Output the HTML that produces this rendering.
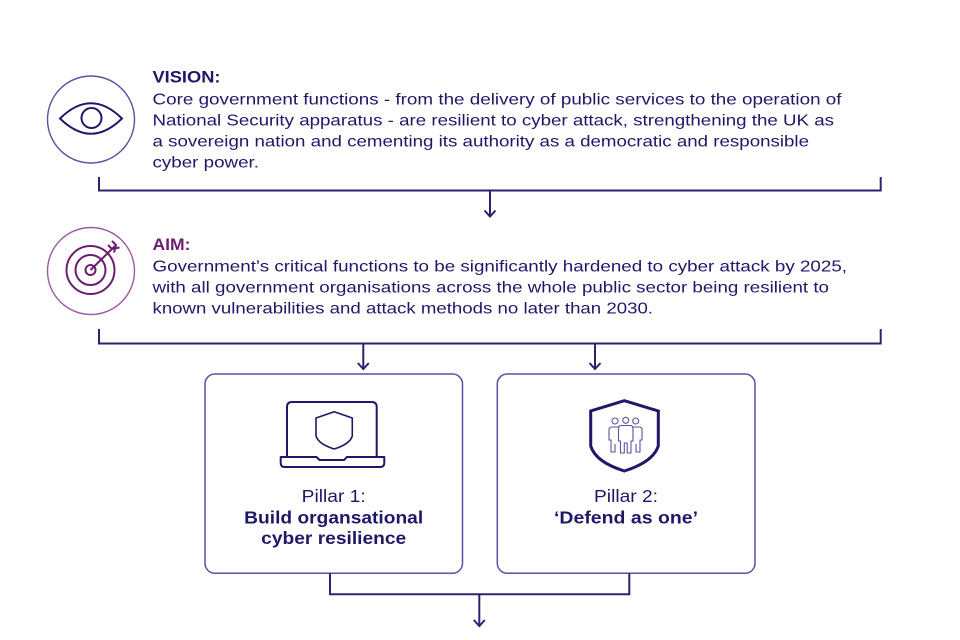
<!DOCTYPE html>
<html>
<head>
<meta charset="utf-8">
<style>
  html, body { margin:0; padding:0; background:#ffffff; }
  svg { display:block; }
  text { font-family: "Liberation Sans", Arial, sans-serif; }
</style>
</head>
<body>
<svg width="960" height="640" viewBox="0 0 960 640" xmlns="http://www.w3.org/2000/svg">
  <rect width="960" height="640" fill="#ffffff"/>

  <!-- VISION icon -->
  <circle cx="91" cy="119.5" r="43.5" fill="none" stroke="#5e4f9e" stroke-width="1.4"/>
  <path d="M60,118.5 Q91,88 122,118.5 Q91,149 60,118.5 Z" fill="none" stroke="#1f1868" stroke-width="2"/>
  <circle cx="91.5" cy="118" r="10" fill="none" stroke="#1f1868" stroke-width="2"/>

  <!-- VISION text -->
  <g fill="#1f1868">
    <text x="152.5" y="82.3" font-size="16.5" font-weight="bold" textLength="68" lengthAdjust="spacingAndGlyphs">VISION:</text>
    <text x="152.5" y="104.3" font-size="16" textLength="689" lengthAdjust="spacingAndGlyphs">Core government functions - from the delivery of public services to the operation of</text>
    <text x="152.5" y="125.3" font-size="16" textLength="681.5" lengthAdjust="spacingAndGlyphs">National Security apparatus - are resilient to cyber attack, strengthening the UK as</text>
    <text x="152.5" y="146.5" font-size="16" textLength="656.5" lengthAdjust="spacingAndGlyphs">a sovereign nation and cementing its authority as a democratic and responsible</text>
    <text x="152.5" y="167.3" font-size="16" textLength="106.5" lengthAdjust="spacingAndGlyphs">cyber power.</text>
  </g>

  <!-- bracket 1 -->
  <g fill="none" stroke="#2b2270" stroke-width="2">
    <path d="M99,177 V190.5 H880.7 V177"/>
    <path d="M490,190.5 V216"/>
    <path d="M484.5,210.5 L490,216.5 L495.5,210.5"/>
  </g>

  <!-- AIM icon -->
  <circle cx="91" cy="271" r="43.5" fill="none" stroke="#9b5ba3" stroke-width="1.4"/>
  <g fill="none" stroke="#6c1e6e" stroke-width="2">
    <circle cx="90.5" cy="270" r="24"/>
    <circle cx="90.5" cy="270" r="15"/>
    <circle cx="90.5" cy="270" r="5"/>
    <path d="M90.5,270 L115,246"/>
    <path d="M108,245 L112,249 L119.5,247.5"/>
    <path d="M112,241 L116,245 L114,252.5"/>
  </g>

  <!-- AIM text -->
  <text x="152.5" y="250" font-size="16.5" font-weight="bold" fill="#6c1e6e" textLength="38" lengthAdjust="spacingAndGlyphs">AIM:</text>
  <g fill="#1f1868">
    <text x="152.5" y="271.7" font-size="16" textLength="694.5" lengthAdjust="spacingAndGlyphs">Government’s critical functions to be significantly hardened to cyber attack by 2025,</text>
    <text x="152.5" y="292.7" font-size="16" textLength="676.5" lengthAdjust="spacingAndGlyphs">with all government organisations across the whole public sector being resilient to</text>
    <text x="152.5" y="313.5" font-size="16" textLength="500.5" lengthAdjust="spacingAndGlyphs">known vulnerabilities and attack methods no later than 2030.</text>
  </g>

  <!-- bracket 2 -->
  <g fill="none" stroke="#2b2270" stroke-width="2">
    <path d="M99,329 V343.5 H880.7 V329"/>
    <path d="M363.3,343.5 V368.5"/>
    <path d="M357.8,363 L363.3,369 L368.8,363"/>
    <path d="M595,343.5 V368.5"/>
    <path d="M589.5,363 L595,369 L600.5,363"/>
  </g>

  <!-- Pillar boxes -->
  <rect x="205" y="374" width="257.5" height="199.3" rx="10" ry="10" fill="none" stroke="#5e4fa0" stroke-width="1.5"/>
  <rect x="497.3" y="374" width="257.7" height="199.3" rx="10" ry="10" fill="none" stroke="#5e4fa0" stroke-width="1.5"/>

  <!-- Laptop icon -->
  <g fill="none" stroke="#1f1868" stroke-width="2" stroke-linejoin="round">
    <path d="M287,457 V407 Q287,402 292,402 H371.7 Q376.7,402 376.7,407 V457"/>
    <path d="M280.7,457 H316.5 L319.5,460 H344 L347,457 H384.3 V463 Q384.3,467 380.3,467 H284.7 Q280.7,467 280.7,463 Z"/>
    <path d="M334.2,411.7 L352.3,418 V436 Q350,444 334.2,449 Q318.4,444 316,436 V418 Z" stroke-width="1.6"/>
  </g>

  <!-- Shield with people icon -->
  <path d="M624.3,400.7 L658.3,411 V446 Q653,462 624.3,471 Q595.6,462 590.7,446 V411 Z" fill="none" stroke="#1f1868" stroke-width="3" stroke-linejoin="miter"/>
  <g fill="none" stroke="#5e4fa0" stroke-width="1.1" stroke-linejoin="round">
    <circle cx="615" cy="421" r="3"/>
    <circle cx="625.7" cy="420.3" r="3"/>
    <circle cx="635.7" cy="421" r="3"/>
    <path d="M619.5,427 H612 Q609,427 609,430 V440 H611 V452 H615 V444"/>
    <path d="M631.8,427 H639 Q642,427 642,430 V440 H640 V452 H636 V444"/>
    <path d="M621,425.5 H630.5 Q633,425.5 633,428.5 V441 H631 V453 H627.2 V443 H624.3 V453 H620.5 V441 H618.5 V428.5 Q618.5,425.5 621,425.5 Z"/>
  </g>

  <!-- Pillar texts -->
  <g fill="#1f1868" text-anchor="middle">
    <text x="333.7" y="501.8" font-size="17.5" textLength="64" lengthAdjust="spacingAndGlyphs">Pillar 1:</text>
    <text x="333.7" y="523.3" font-size="17.5" font-weight="bold" textLength="179" lengthAdjust="spacingAndGlyphs">Build organsational</text>
    <text x="333.7" y="544" font-size="17.5" font-weight="bold" textLength="145" lengthAdjust="spacingAndGlyphs">cyber resilience</text>
    <text x="626" y="501.8" font-size="17.5" textLength="64" lengthAdjust="spacingAndGlyphs">Pillar 2:</text>
    <text x="626" y="523.3" font-size="17.5" font-weight="bold" textLength="144" lengthAdjust="spacingAndGlyphs">‘Defend as one’</text>
  </g>

  <!-- bottom bracket -->
  <g fill="none" stroke="#2b2270" stroke-width="2">
    <path d="M330,573.3 V594.3 H629.3 V573.3"/>
    <path d="M479.3,594.3 V625.5"/>
    <path d="M473.8,620 L479.3,626 L484.8,620"/>
  </g>
</svg>
</body>
</html>
